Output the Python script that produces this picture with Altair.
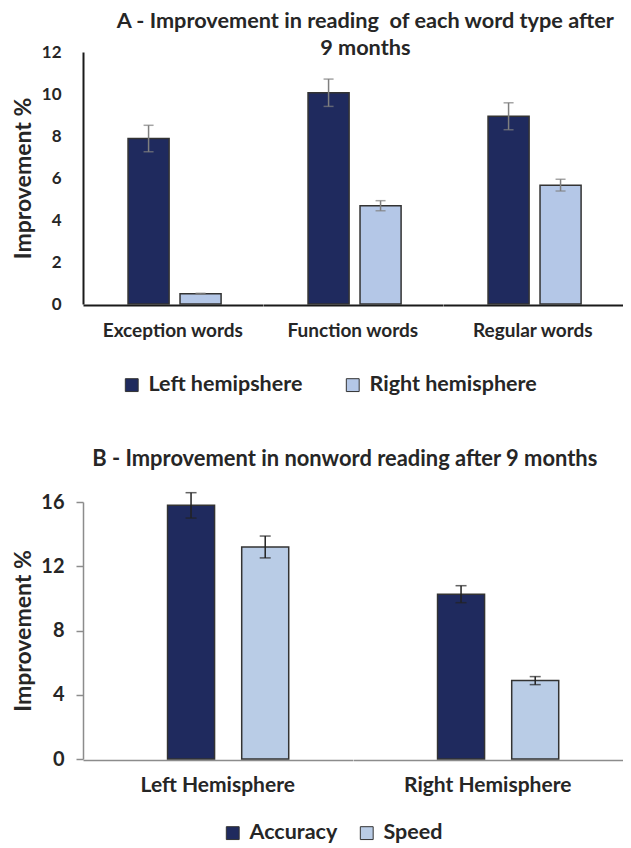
import altair as alt
import pandas as pd

# ---- Panel A data ----
a_categories = ["Exception words", "Function words", "Regular words"]
a_series = ["Left hemipshere", "Right hemisphere"]
a_left = [7.88, 10.06, 8.94]
a_right = [0.49, 4.68, 5.66]
a_left_err = [0.63, 0.65, 0.64]
a_right_err = [0.02, 0.24, 0.28]

# ---- Panel B data ----
b_categories = ["Left Hemisphere", "Right Hemisphere"]
b_series = ["Accuracy", "Speed"]
b_accuracy = [15.79, 10.26]
b_speed = [13.20, 4.88]
b_accuracy_err = [0.79, 0.53]
b_speed_err = [0.68, 0.25]

colors_a = ["#1F2A5E", "#B4C7E7"]
colors_b = ["#1F2A5E", "#B9CCE6"]
FONT = "Lato"
TXT = "#262626"


def make_df(cats, series, vals_list, errs_list):
    rows = []
    for s, vals, errs in zip(series, vals_list, errs_list):
        for c, v, e in zip(cats, vals, errs):
            rows.append({"cat": c, "series": s, "value": v, "err": e,
                         "lo": v - e, "hi": v + e})
    return pd.DataFrame(rows)


dfa = make_df(a_categories, a_series, [a_left, a_right], [a_left_err, a_right_err])
dfb = make_df(b_categories, b_series, [b_accuracy, b_speed], [b_accuracy_err, b_speed_err])


def panel(df, cats, series, colors, title, title_size, title_dx, title_offset, cell_w,
          height, ymax, yvals, x_pi, x_po, x_align, axis_color, axis_width, ticks,
          tick_size, tick_label_size, tick_label_pad, x_label_size, x_label_pad,
          ytitle_x, err_color, cap_size, legend_x, legend_y, legend_col_pad):
    base = alt.Chart()
    xscale = alt.Scale(type="band", paddingInner=x_pi, paddingOuter=x_po, align=x_align)
    x = alt.X("series:N", sort=series, scale=xscale,
              axis=alt.Axis(title=None, labels=False, ticks=False, grid=False,
                            domainColor=axis_color, domainWidth=axis_width))
    y = alt.Y("value:Q", scale=alt.Scale(domain=[0, ymax], nice=False),
              axis=alt.Axis(values=yvals, grid=False, ticks=ticks, tickSize=tick_size,
                            tickColor=axis_color, tickWidth=1.5,
                            domainColor=axis_color, domainWidth=axis_width,
                            labelFontSize=tick_label_size, labelFont=FONT,
                            labelFontWeight="bold", labelColor=TXT,
                            labelPadding=tick_label_pad,
                            title="Improvement %", titleFont=FONT, titleFontSize=23,
                            titleFontWeight="bold", titleColor=TXT,
                            titleAngle=-90, titleX=ytitle_x, titleY=height / 2,
                            titleAlign="center", titleBaseline="middle"))
    color = alt.Color("series:N", sort=series,
                      scale=alt.Scale(domain=series, range=colors),
                      legend=alt.Legend(title=None, orient="none", legendX=legend_x,
                                        legendY=legend_y, direction="horizontal",
                                        symbolType="square", symbolSize=165,
                                        symbolStrokeColor="#333333", symbolStrokeWidth=1,
                                        labelFont=FONT, labelFontSize=21.5,
                                        labelFontWeight="bold", labelColor=TXT,
                                        labelOffset=6, labelLimit=400,
                                        columnPadding=legend_col_pad, padding=0))
    xs = alt.X("series:N", sort=series, scale=xscale)
    bars = base.mark_bar(stroke="#333333", strokeWidth=1.5).encode(x=x, y=y, color=color)
    rule = base.mark_rule(color=err_color, strokeWidth=1.5).encode(
        x=xs, y="lo:Q", y2="hi:Q")
    cap_lo = base.mark_tick(color=err_color, thickness=1.5, size=cap_size,
                            orient="horizontal").encode(x=xs, y="lo:Q")
    cap_hi = base.mark_tick(color=err_color, thickness=1.5, size=cap_size,
                            orient="horizontal").encode(x=xs, y="hi:Q")
    layered = alt.layer(bars, rule, cap_lo, cap_hi, data=df).properties(
        width=cell_w, height=height)
    return layered.facet(
        column=alt.Column("cat:N", sort=cats,
                          header=alt.Header(title=None, labelOrient="bottom",
                                            labelFont=FONT, labelFontSize=x_label_size,
                                            labelFontWeight="bold", labelColor=TXT,
                                            labelPadding=x_label_pad, labelLimit=400)),
        spacing=0,
        title=alt.TitleParams(text=title, font=FONT, fontSize=title_size,
                              fontWeight="bold", color=TXT, lineHeight=27,
                              anchor="middle", dx=title_dx, offset=title_offset))


chart_a = panel(dfa, a_categories, a_series, colors_a,
                ["A - Improvement in reading\u00a0 of each word type after", "9 months"],
                21.7, 48, -17, 539 / 3, 252, 12, [0, 2, 4, 6, 8, 10, 12],
                0.21, 0.833, 0.52, "#1a1a1a", 2, False, 0,
                17, 22, 19, 17, -60, "#7F7F7F", 10, 38, 322, 39)

chart_b = panel(dfb, b_categories, b_series, colors_b,
                "B - Improvement in nonword reading after 9 months",
                21.9, 27.5, 21, 539 / 2, 257, 16, [0, 4, 8, 12, 16],
                0.366, 1.0, 0.57, "#8C8C8C", 1.5, True, 7,
                20, 12, 21, 15, -60, "#222222", 11, 139, 320, 18)

chart = alt.vconcat(chart_a, chart_b, spacing=52).resolve_scale(
    color="independent").resolve_legend(color="independent").properties(
    padding={"left": 3, "top": 3, "right": 0, "bottom": 0},
    background="white"
).configure_view(stroke=None, strokeWidth=0).configure_axis(grid=False)

chart.save("out.html", embed_options={"renderer": "svg", "actions": False})
